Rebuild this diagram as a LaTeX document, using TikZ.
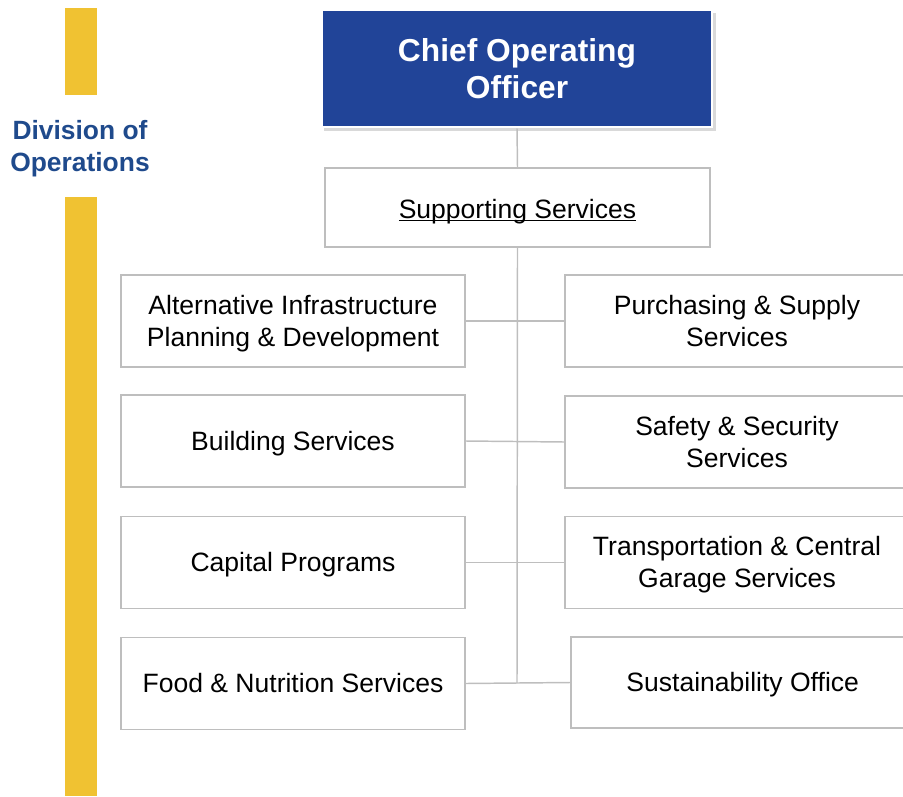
\documentclass[tikz,border=0pt]{standalone}
\usepackage{fontspec}
\setmainfont{Liberation Sans}
\usetikzlibrary{shadows}
\definecolor{cooblue}{RGB}{33,68,152}
\definecolor{divblue}{RGB}{31,74,140}
\definecolor{baryellow}{RGB}{240,194,50}
\definecolor{linegray}{RGB}{190,190,190}
\def\topstrutht{24pt}
\newcommand\lowunderline[1]{\setbox0\hbox{#1}\rlap{\rule[-1.9pt]{\wd0}{1.1pt}}\box0}
\tikzset{
  unit box/.style={draw=linegray,line width=1.1pt,fill=white,align=center,
    font=\fontsize{19.9}{24}\selectfont,inner sep=0pt,
    execute at begin node={\rule[-5pt]{0pt}{\topstrutht}},
    execute at end node={\rule[-5pt]{0pt}{24pt}}},
  text drop/.code={\def\topstrutht{#1}},
  two lines/.style={text drop=48pt},
  left box/.style={unit box,minimum width=258pt,minimum height=69pt},
  right box/.style={unit box,minimum width=255pt,minimum height=69pt},
  link/.style={draw=linegray,line width=1.1pt}
}
\begin{document}
\begin{tikzpicture}[x=0.75pt,y=-0.75pt]
        \useasboundingbox (0,0) rectangle (903,796);
        % side bar
        \fill[baryellow] (65,8) rectangle (97,95);
        \fill[baryellow] (65,197) rectangle (97,796);
        \node[text=divblue,align=center,font=\fontsize{19.8}{24}\selectfont\bfseries] (div) at (80,149) {Division of\\Operations};
        % top of the chart
        \node[draw=white,line width=2.2pt,fill=cooblue,text=white,align=center,
          drop shadow={shadow xshift=2pt,shadow yshift=-2.5pt,opacity=0.3,shadow scale=1.005},
          minimum width=292.5pt,minimum height=87.75pt,
          font=\fontsize{23.8}{27.75}\selectfont\bfseries] (coo) at (517,68.5) {Chief Operating\\Officer};
        \node[unit box,text drop=27pt,minimum width=288.75pt,minimum height=59.25pt] (sup) at (517.5,207.5) {\lowunderline{Supporting Services}};
        \coordinate (spine) at (517,683);
        % units
        \node[left box,two lines] (alt) at (293,321) {Alternative Infrastructure\\Planning \& Development};
        \node[left box] (bld) at (293,441) {Building Services};
        \node[left box] (cap) at (293,562.5) {Capital Programs};
        \node[left box] (fns) at (293,683.5) {Food \& Nutrition Services};
        \node[right box,two lines] (pur) at (735,321) {\hspace{3pt}Purchasing \& Supply\\\hspace{3pt}Services};
        \node[right box,two lines] (saf) at (735,442) {\hspace{3pt}Safety \& Security\\\hspace{3pt}Services};
        \node[right box,two lines] (trn) at (735,562.5) {\hspace{3pt}Transportation \& Central\\\hspace{3pt}Garage Services};
        \node[unit box,minimum width=250.5pt,minimum height=68.25pt] (sus) at (738,682.5) {\hspace{7pt}Sustainability Office};
        % connectors
        \draw[link] (coo.south) -- (sup.north);
        \draw[link] (sup.south) -- (spine);
        \draw[link] (alt.east) -- (pur.west);
        \draw[link] (bld.east) -- (saf.west);
        \draw[link] (cap.east) -- (trn.west);
        \draw[link] (fns.east) -- (spine) -- (sus.west);
    \end{tikzpicture}
\end{document}
